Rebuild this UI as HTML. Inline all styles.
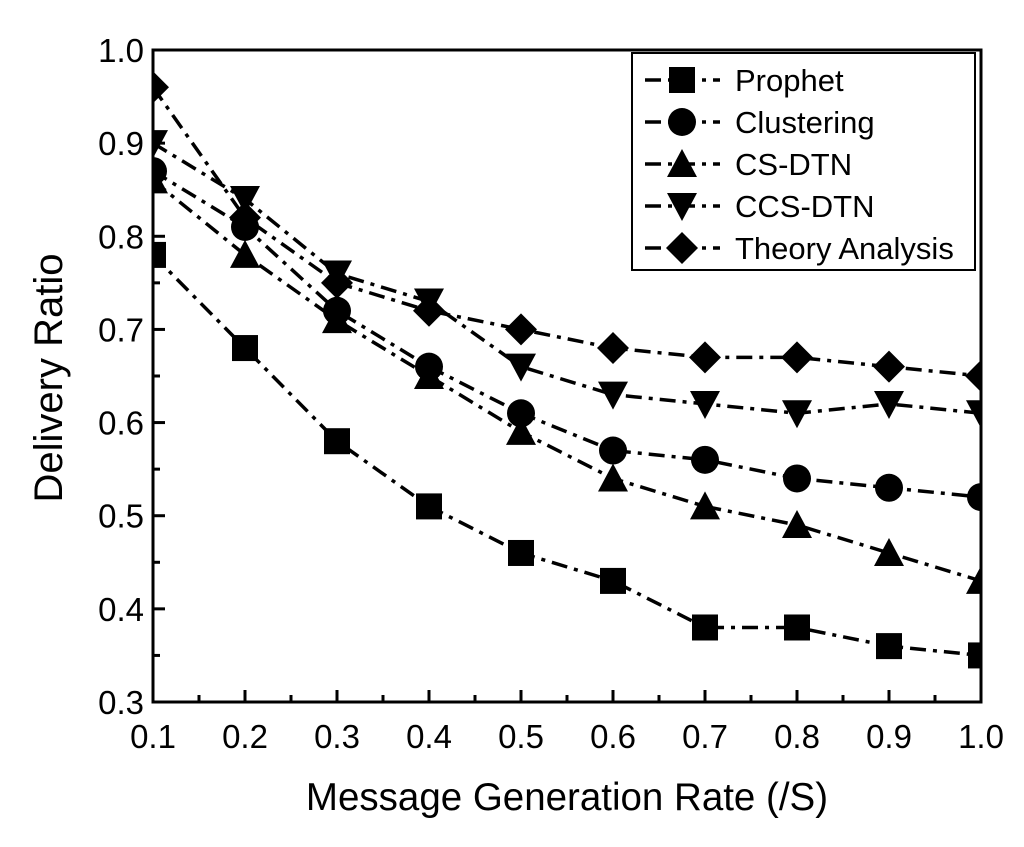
<!DOCTYPE html>
<html><head><meta charset="utf-8"><style>
body{margin:0;background:#fff;}
svg text{font-family:"Liberation Sans",Arial,sans-serif;fill:#000;}
</style></head><body>
<svg id="chart" width="1024" height="842">
<defs><clipPath id="clip"><rect x="153" y="50" width="828" height="652"/></clipPath></defs>
<g id="plot" clip-path="url(#clip)"></g>
<rect x="153" y="50" width="828" height="652" fill="none" stroke="#000" stroke-width="3"/>
<g id="axes"></g>
<text x="567" y="810" font-size="38.5" text-anchor="middle">Message Generation Rate (/S)</text>
<text transform="translate(62,378) rotate(-90)" font-size="40" text-anchor="middle">Delivery Ratio</text>
<g id="legend">
<rect x="632" y="53" width="343" height="217" fill="#fff" stroke="#000" stroke-width="2"/>
</g>
</svg>
<script>
const categories=[0.1,0.2,0.3,0.4,0.5,0.6,0.7,0.8,0.9,1.0];
const seriesNames=["Prophet","Clustering","CS-DTN","CCS-DTN","Theory Analysis"];
const markers=["square","circle","up","down","diamond"];
const prophet=[0.78,0.68,0.58,0.51,0.46,0.43,0.38,0.38,0.36,0.35];
const clustering=[0.87,0.81,0.72,0.66,0.61,0.57,0.56,0.54,0.53,0.52];
const csdtn=[0.86,0.78,0.71,0.65,0.59,0.54,0.51,0.49,0.46,0.43];
const ccsdtn=[0.90,0.84,0.76,0.73,0.66,0.63,0.62,0.61,0.62,0.61];
const theory=[0.96,0.82,0.75,0.72,0.70,0.68,0.67,0.67,0.66,0.65];
const xTicks=["0.1","0.2","0.3","0.4","0.5","0.6","0.7","0.8","0.9","1.0"];
const yTicks=["0.3","0.4","0.5","0.6","0.7","0.8","0.9","1.0"];
const series=[prophet,clustering,csdtn,ccsdtn,theory];
const NS="http://www.w3.org/2000/svg";
const X=v=>153+(v-0.1)/0.9*828;
const Y=v=>702-(v-0.3)/0.7*652;
function mk(tag,attrs,parent){const e=document.createElementNS(NS,tag);for(const k in attrs)e.setAttribute(k,attrs[k]);parent.appendChild(e);return e;}
function marker(type,x,y,p){
  const s=13;let e;
  if(type=="square")e=mk("rect",{x:x-s,y:y-s,width:2*s,height:2*s},p);
  else if(type=="circle")e=mk("circle",{cx:x,cy:y,r:s+1},p);
  else if(type=="up")e=mk("polygon",{points:`${x},${y-s-2} ${x+s+2},${y+s} ${x-s-2},${y+s}`},p);
  else if(type=="down")e=mk("polygon",{points:`${x},${y+s+2} ${x+s+2},${y-s} ${x-s-2},${y-s}`},p);
  else e=mk("polygon",{points:`${x},${y-s-3} ${x+s+3},${y} ${x},${y+s+3} ${x-s-3},${y}`},p);
  e.setAttribute("fill","#000");
  return e;
}
const plot=document.getElementById("plot");
series.forEach((d,i)=>{
  const g=mk("g",{},plot);
  
  
  mk("polyline",{points:d.map((v,j)=>X(categories[j])+","+Y(v)).join(" "),fill:"none",stroke:"#000","stroke-width":3.5,"stroke-dasharray":"16,7,4,7"},g);
  d.forEach((v,j)=>{const m=marker(markers[i],X(categories[j]),Y(v),g);
    
    });
});
const axes=document.getElementById("axes");
xTicks.forEach((t,i)=>{
  const x=X(parseFloat(t));
  mk("line",{x1:x,y1:702,x2:x,y2:690,stroke:"#000","stroke-width":3},axes);
  if(i<xTicks.length-1){const xm=X(parseFloat(t)+0.05);mk("line",{x1:xm,y1:702,x2:xm,y2:695,stroke:"#000","stroke-width":3},axes);}
  const tx=mk("text",{x:x,y:748,"font-size":33,"text-anchor":"middle"},axes);tx.textContent=t;
  
  
});
yTicks.forEach((t,i)=>{
  const y=Y(parseFloat(t));
  mk("line",{x1:153,y1:y,x2:165,y2:y,stroke:"#000","stroke-width":3},axes);
  if(i<yTicks.length-1){const ym=Y(parseFloat(t)+0.05);mk("line",{x1:153,y1:ym,x2:160,y2:ym,stroke:"#000","stroke-width":3},axes);}
  const tx=mk("text",{x:144,y:y+12,"font-size":33,"text-anchor":"end"},axes);tx.textContent=t;
  
  
});
const lg=document.getElementById("legend");
seriesNames.forEach((n,i)=>{
  const y=80+i*42;
  const g=mk("g",{},lg);
  
  
  mk("line",{x1:645,y1:y,x2:720,y2:y,stroke:"#000","stroke-width":3.5,"stroke-dasharray":"16,7,4,7"},g);
  marker(markers[i],682,y,g);
  const t=mk("text",{x:735,y:y+11,"font-size":31},g);t.textContent=n;
});
</script>
</body></html>
